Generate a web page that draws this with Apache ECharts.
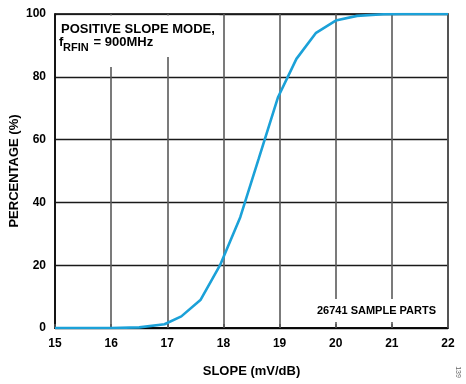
<!DOCTYPE html>
<html>
<head>
<meta charset="utf-8">
<script src="https://cdn.jsdelivr.net/npm/echarts@6/dist/echarts.min.js"></script>
<style>html,body{margin:0;padding:0;background:#fff}#c{width:466px;height:384px}</style>
</head>
<body>
<div id="c"></div>
<script>
// Data
const slopeX = [15, 15.5, 16, 16.5, 16.95, 17.25, 17.59, 17.94, 18.3, 18.63, 18.97, 19.3, 19.65, 20.0, 20.38, 20.85, 21.2, 22];
const percentY = [0, 0, 0, 0.2, 1.2, 3.7, 8.9, 20, 35.3, 54, 73.4, 85.7, 94, 97.9, 99.4, 99.9, 100, 100];
const xTicks = [15, 16, 17, 18, 19, 20, 21, 22];
const yTicks = [0, 20, 40, 60, 80, 100];
const xTitle = 'SLOPE (mV/dB)';
const yTitle = 'PERCENTAGE (%)';
const noteTitle = 'POSITIVE SLOPE MODE,';
const noteSample = '26741 SAMPLE PARTS';

const FONT = 'Liberation Sans, Arial, sans-serif';
const chart = echarts.init(document.getElementById('c'));
const pts = slopeX.map((x, i) => [x, percentY[i]]);

chart.setOption({
  animation: false,
  backgroundColor: '#fff',
  grid: { left: 55, right: 18, top: 14, bottom: 56, containLabel: false, outerBoundsMode: 'none', show: true, borderColor: '#000', borderWidth: 1.5, backgroundColor: 'transparent' },
  xAxis: {
    type: 'value', min: xTicks[0], max: xTicks[xTicks.length - 1], interval: 1,
    name: xTitle, nameLocation: 'middle', nameGap: 37, nameMoveOverlap: false,
    nameTextStyle: { fontFamily: FONT, fontWeight: 'bold', fontSize: 13, color: '#000' },
    axisLine: { show: true, lineStyle: { color: '#000', width: 1.5 } },
    axisTick: { show: true, inside: true, length: 4, lineStyle: { color: '#555', width: 1.5 } },
    axisLabel: { fontFamily: FONT, fontWeight: 'bold', fontSize: 12, color: '#000', margin: 10 },
    splitLine: { show: true, lineStyle: { color: '#5a5a5a', width: 1.6 } }
  },
  yAxis: {
    type: 'value', min: yTicks[0], max: yTicks[yTicks.length - 1], interval: 20,
    name: yTitle, nameLocation: 'middle', nameGap: 34, nameMoveOverlap: false,
    nameTextStyle: { fontFamily: FONT, fontWeight: 'bold', fontSize: 13, color: '#000' },
    axisLine: { show: true, lineStyle: { color: '#000', width: 1.5 } },
    axisTick: { show: false },
    axisLabel: { fontFamily: FONT, fontWeight: 'bold', fontSize: 12, color: '#000', margin: 9 },
    splitLine: { show: true, lineStyle: { color: '#1a1a1a', width: 1.3 } }
  },
  series: [{
    type: 'line', data: pts, showSymbol: false, symbol: 'none', smooth: false,
    lineStyle: { color: '#1ba1d8', width: 2.6 }, z: 5
  }],
  graphic: [
    { type: 'rect', z: 100, shape: { x: 56.5, y: 15.5, width: 163, height: 41.5 }, style: { fill: '#fff' } },
    { type: 'rect', z: 100, shape: { x: 56.5, y: 56, width: 104, height: 11 }, style: { fill: '#fff' } },
    { type: 'rect', z: 100, shape: { x: 312, y: 299, width: 128, height: 23 }, style: { fill: '#fff' } },
    { type: 'text', z: 101, x: 61, y: 29.5, style: { text: noteTitle, font: 'bold 13px ' + FONT, fill: '#000', textVerticalAlign: 'middle', verticalAlign: 'middle' } },
    { type: 'text', z: 101, x: 59, y: 42.5, style: { text: 'f', font: 'bold 13px ' + FONT, fill: '#000', textVerticalAlign: 'middle', verticalAlign: 'middle' } },
    { type: 'text', z: 101, x: 63, y: 48, style: { text: 'RFIN', font: 'bold 11px ' + FONT, fill: '#000', textVerticalAlign: 'middle', verticalAlign: 'middle' } },
    { type: 'text', z: 101, x: 90, y: 42.5, style: { text: ' = 900MHz', font: 'bold 13px ' + FONT, fill: '#000', textVerticalAlign: 'middle', verticalAlign: 'middle' } },
    { type: 'text', z: 101, x: 317, y: 311, style: { text: noteSample, font: 'bold 11px ' + FONT, fill: '#000', textVerticalAlign: 'middle', verticalAlign: 'middle' } },
    { type: 'text', z: 101, x: 458, y: 372, rotation: -Math.PI / 2, style: { text: '139', font: '7px ' + FONT, fill: '#666', align: 'center', textAlign: 'center', textVerticalAlign: 'middle', verticalAlign: 'middle' } }
  ]
});
</script>
</body>
</html>
